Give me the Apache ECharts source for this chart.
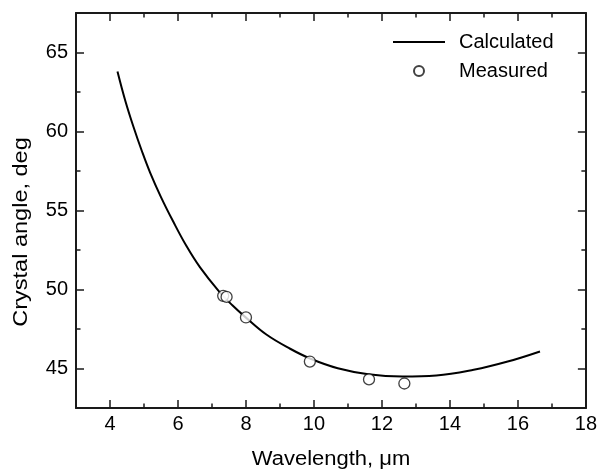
<!DOCTYPE html>
<html>
<head>
<meta charset="utf-8">
<script src="https://cdn.jsdelivr.net/npm/echarts@6/dist/echarts.min.js"></script>
<style>
html,body{margin:0;padding:0;background:#fff;}
#chart{width:600px;height:470px;}
</style>
</head>
<body>
<div id="chart"></div>
<script>
// ---- data ----
const calcX = [4.22, 4.45, 4.69, 4.94, 5.18, 5.5, 5.86, 6.25, 6.65, 7.2, 7.6, 8.0, 8.6, 9.3, 9.9, 10.7, 11.6, 12.6, 13.6, 14.7, 15.7, 16.65];
const calcY = [63.8, 61.95, 60.3, 58.75, 57.4, 55.85, 54.3, 52.75, 51.4, 49.9, 49.0, 48.22, 47.15, 46.25, 45.62, 45.02, 44.64, 44.5, 44.56, 44.92, 45.44, 46.08];
const measX = [7.33, 7.43, 8.0, 9.88, 11.62, 12.66];
const measY = [49.6, 49.53, 48.23, 45.44, 44.31, 44.05];
const xTickLabels = [4, 6, 8, 10, 12, 14, 16, 18];
const xMinorTicks = [5, 7, 9, 11, 13, 15, 17];
const yTickLabels = [45, 50, 55, 60, 65];
const yMinorTicks = [47.5, 52.5, 57.5, 62.5];
const seriesNames = ['Calculated', 'Measured'];
const xTitle = 'Wavelength, \u03bcm';
const yTitle = 'Crystal angle, deg';

// ---- chart ----
const FONT = 'Arial, "Liberation Sans", sans-serif';
const AXC = '#1a1a1a';
const X_MIN = 3, X_MAX = 18, Y_MIN = 42.5, Y_MAX = 67.5;

function xAx(position, ticks, len, showLine, labels) {
  return {
    type: 'value', position: position, min: X_MIN, max: X_MAX,
    axisLine: {show: showLine, onZero: false, lineStyle: {color: AXC, width: 2}},
    axisTick: {show: true, inside: true, length: len, customValues: ticks, lineStyle: {color: AXC, width: 1.5}},
    axisLabel: labels ? {show: true, customValues: labels, fontSize: 20, fontFamily: FONT, color: '#000', margin: 6} : {show: false},
    splitLine: {show: false}
  };
}
function yAx(position, ticks, len, showLine, labels) {
  return {
    type: 'value', position: position, min: Y_MIN, max: Y_MAX,
    axisLine: {show: showLine, onZero: false, lineStyle: {color: AXC, width: 2}},
    axisTick: {show: true, inside: true, length: len, customValues: ticks, lineStyle: {color: AXC, width: 1.5}},
    axisLabel: labels ? {show: true, customValues: labels, fontSize: 20, fontFamily: FONT, color: '#000', margin: 8} : {show: false},
    splitLine: {show: false}
  };
}

const chart = echarts.init(document.getElementById('chart'), null, {renderer: 'canvas'});
chart.setOption({
  animation: false,
  backgroundColor: '#fff',
  grid: {left: 76, right: 13, top: 13, bottom: 62, containLabel: false},
  xAxis: [
    xAx('bottom', xTickLabels, 8, true, xTickLabels),
    xAx('bottom', xMinorTicks, 4.5, false, null),
    xAx('top', xTickLabels, 8, true, null),
    xAx('top', xMinorTicks, 4.5, false, null)
  ],
  yAxis: [
    yAx('left', yTickLabels, 8, true, yTickLabels),
    yAx('left', yMinorTicks, 4.5, false, null),
    yAx('right', yTickLabels, 8, true, null),
    yAx('right', yMinorTicks, 4.5, false, null)
  ],
  legend: {
    orient: 'vertical', left: 393, top: 32, padding: 0, itemWidth: 52, itemHeight: 10, itemGap: 9,
    data: [
      {name: seriesNames[0], icon: 'path://M0 0 H52 V2 H0 Z', itemStyle: {color: '#000', borderWidth: 0}},
      {name: seriesNames[1], icon: 'circle'}
    ],
    textStyle: {fontSize: 20, fontFamily: FONT, color: '#000', padding: [0, 0, 0, 9]}
  },
  series: [
    {
      name: seriesNames[0], type: 'line', xAxisIndex: 0, yAxisIndex: 0,
      data: calcX.map((x, i) => [x, calcY[i]]),
      smooth: 0.4, symbol: 'none', showSymbol: false,
      lineStyle: {color: '#000', width: 2},
      itemStyle: {color: '#000'}, z: 2
    },
    {
      name: seriesNames[1], type: 'scatter', xAxisIndex: 0, yAxisIndex: 0,
      data: measX.map((x, i) => [x, measY[i]]),
      symbol: 'circle', symbolSize: 11,
      itemStyle: {color: '#fff', borderColor: '#111', borderWidth: 1.3}, z: 3
    }
  ],
  graphic: [
    {type: 'text', x: 331, y: 459, scaleX: 1.1, style: {text: xTitle, font: '20px ' + FONT, fill: '#000', align: 'center', verticalAlign: 'middle'}},
    {type: 'text', x: 21, y: 232, rotation: Math.PI / 2, scaleX: 1.12, style: {text: yTitle, font: '21px ' + FONT, fill: '#000', align: 'center', verticalAlign: 'middle'}}
  ]
});
</script>
</body>
</html>
